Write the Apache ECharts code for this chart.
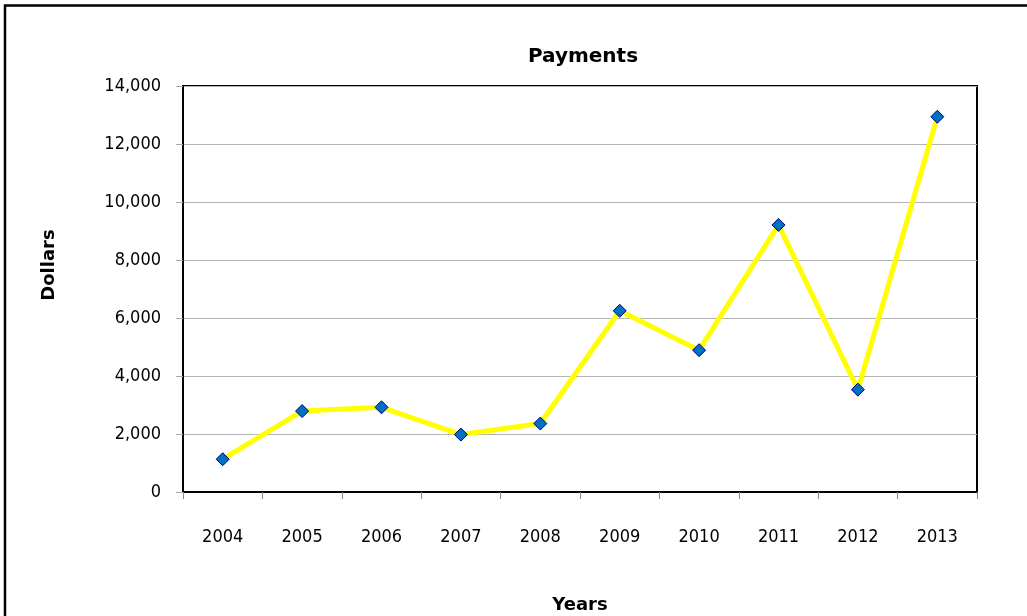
<!DOCTYPE html>
<html>
<head>
<meta charset="utf-8">
<script src="https://cdn.jsdelivr.net/npm/echarts@6/dist/echarts.min.js"></script>
<style>
html,body{margin:0;padding:0;background:#fff;}
#chart{width:1027px;height:616px;}
</style>
</head>
<body>
<div id="chart"></div>
<script>
var years = ['2004','2005','2006','2007','2008','2009','2010','2011','2012','2013'];
var payments = [1130, 2790, 2920, 1980, 2360, 6250, 4890, 9210, 3530, 12940];
var yTicks = {min: 0, max: 14000, interval: 2000};

var chart = echarts.init(document.getElementById('chart'), null, {renderer: 'canvas'});
var labelFont = '"DejaVu Sans Condensed", "DejaVu Sans", sans-serif';
var boldFont = '"DejaVu Sans", Verdana, sans-serif';
chart.setOption({
  animation: false,
  backgroundColor: '#fff',
  title: {
    text: 'Payments',
    left: 578,
    textAlign: 'center',
    top: 42,
    textStyle: {fontFamily: boldFont, fontWeight: 'bold', fontSize: 20, color: '#000'}
  },
  grid: {
    left: 183, right: 50, top: 86, bottom: 124,
    show: true, borderColor: '#000', borderWidth: 2, backgroundColor: 'transparent'
  },
  xAxis: {
    type: 'category',
    data: years,
    boundaryGap: true,
    axisLine: {show: true, lineStyle: {color: '#000', width: 2}},
    axisTick: {show: true, length: 7, alignWithLabel: false, lineStyle: {color: '#888', width: 1}},
    axisLabel: {margin: 36, fontFamily: labelFont, fontSize: 18, color: '#000'},
    splitLine: {show: false}
  },
  yAxis: {
    type: 'value',
    min: yTicks.min, max: yTicks.max, interval: yTicks.interval,
    axisLine: {show: true, lineStyle: {color: '#000', width: 2}},
    axisTick: {show: true, length: 7, lineStyle: {color: '#aaa', width: 1}},
    axisLabel: {
      margin: 22, fontFamily: labelFont, fontSize: 18, color: '#000',
      formatter: function (v) { return v.toLocaleString('en-US'); }
    },
    splitLine: {show: true, lineStyle: {color: '#b4b4b4', width: 1}}
  },
  series: [{
    type: 'line',
    data: payments,
    symbol: 'diamond',
    symbolSize: 13,
    lineStyle: {color: '#ffff00', width: 5},
    itemStyle: {color: '#0070c0', borderColor: '#000080', borderWidth: 1},
    z: 3
  }],
  graphic: [
    {type: 'rect', shape: {x: 5, y: 5.5, width: 1100, height: 700}, style: {fill: 'none', stroke: '#000', lineWidth: 2.5}, silent: true},
    {type: 'text', x: 49, y: 265, rotation: Math.PI / 2,
      style: {text: 'Dollars', fontFamily: boldFont, fontWeight: 'bold', fontSize: 18, fill: '#000', textAlign: 'center', textVerticalAlign: 'middle'}},
    {type: 'text', x: 580, y: 605,
      style: {text: 'Years', fontFamily: boldFont, fontWeight: 'bold', fontSize: 18, fill: '#000', textAlign: 'center', textVerticalAlign: 'middle'}}
  ]
});
</script>
</body>
</html>
